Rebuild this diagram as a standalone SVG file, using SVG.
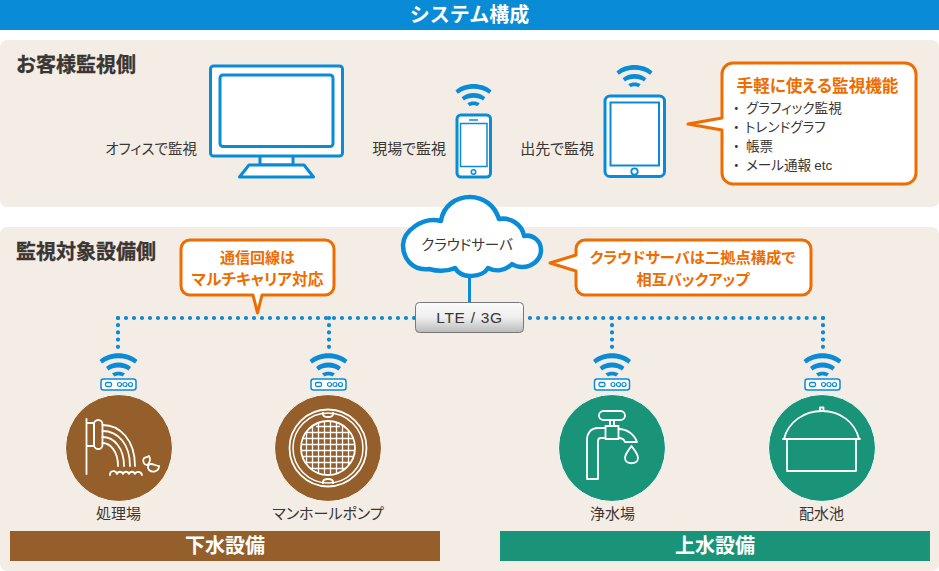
<svg xmlns="http://www.w3.org/2000/svg" width="939" height="571" viewBox="0 0 939 571">
<style>
text{font-family:"Noto Sans CJK JP","Liberation Sans",sans-serif;fill:#3a3533;font-feature-settings:"palt"}
.lat{font-family:"Liberation Sans","Noto Sans CJK JP",sans-serif}
.h{font-size:20px;font-weight:700;stroke:#3a3533;stroke-width:.3;font-feature-settings:normal}
.l{font-size:15px}
.o{font-weight:700;fill:#ee6c00;font-size:15px;text-anchor:middle}
.t{text-anchor:middle}
.b{font-size:13.600px}
.n{font-size:15px;text-anchor:middle}
.w{font-size:20px;font-weight:700;fill:#fff;text-anchor:middle;font-feature-settings:normal}
.panel{fill:#f3ede6}
.bl{fill:#fff;stroke:#0a8bd6;stroke-width:3;stroke-linejoin:round}
.call{fill:#fff;stroke:#ee6c00;stroke-width:3;stroke-linejoin:round}
.dots{fill:none;stroke:#0a8bd6;stroke-width:4.200;stroke-linecap:round;stroke-dasharray:0 8}
.drop{stroke-dasharray:0 7.200}
.ic{fill:none;stroke:#fff;stroke-width:1.800;stroke-linejoin:round;stroke-linecap:round}
</style>
<defs>
<linearGradient id="g" x1="0" y1="0" x2="0" y2="1"><stop offset="0" stop-color="#fbfbfb"/><stop offset=".5" stop-color="#eeeeee"/><stop offset="1" stop-color="#b9b9b9"/></linearGradient>
<g id="wifi" fill="#0a8bd6">
<path d="M-19 -10C-9 -19 9 -19 19 -10L16.500 -6.500C7 -13.500 -7 -13.500 -16.500 -6.500Z"/>
<path d="M-12.500 -3C-6 -9 6 -9 12.500 -3L10 .5C5 -3.500 -5 -3.500 -10 .5Z"/>
<path d="M-6.500 3.500C-3 1 3 1 6.500 3.500L4 6.500C2 5.300 -2 5.300 -4 6.500Z"/>
</g>
<g id="router">
<use href="#wifi" y="28"/>
<rect x="-17.500" y="37" width="35" height="11" rx="2.500" fill="#fff" stroke="#0a8bd6" stroke-width="1.500"/>
<rect x="-13" y="40.500" width="6" height="4" rx="1.500" fill="none" stroke="#0a8bd6" stroke-width="1.300"/>
<circle cx="1" cy="42.500" r="2" fill="none" stroke="#0a8bd6" stroke-width="1.200"/>
<circle cx="6.500" cy="42.500" r="2" fill="none" stroke="#0a8bd6" stroke-width="1.200"/>
<circle cx="12" cy="42.500" r="2" fill="none" stroke="#0a8bd6" stroke-width="1.200"/>
</g>
</defs>

<rect width="939" height="30" fill="#0a8bd6"/>
<rect x="0" y="40" width="939" height="167" rx="7" class="panel"/>
<rect x="0" y="227" width="939" height="344" rx="7" class="panel"/>
<text x="469.500" y="22" class="w">システム構成</text>
<text x="16" y="72" class="h">お客様監視側</text>
<text x="16" y="259" class="h">監視対象設備側</text>

<g id="connectors">
<path class="dots" d="M118 318H415"/>
<path class="dots" style="stroke-dasharray:0 8.140" d="M823 318H528"/>
<path class="dots drop" d="M118 318V347"/>
<path class="dots drop" d="M329 318V347"/>
<path class="dots drop" d="M612 318V347"/>
<path class="dots drop" d="M823 318V347"/>
<path d="M469.500 275V303" stroke="#0a8bd6" stroke-width="3" fill="none"/>
</g>

<g id="monitor">
<path class="bl" d="M260 155H293V165H260Z"/>
<path class="bl" d="M249 165H304L313.500 177H239.500Z"/>
<rect x="210.500" y="66" width="132" height="90" rx="3" class="bl"/>
<rect x="220" y="75" width="113" height="71.500" rx="3" class="bl"/>
<text x="197" y="154" class="l" style="font-size:14.500px" text-anchor="end">オフィスで監視</text>
</g>
<g id="phone">
<use href="#wifi" transform="translate(473.500 100) scale(.95)"/>
<rect x="457" y="115" width="33.500" height="62" rx="4" class="bl"/>
<rect x="460.500" y="123.500" width="26.500" height="43" fill="#fff" stroke="#0a8bd6" stroke-width="1.500"/>
<path d="M469 120H478" stroke="#0a8bd6" stroke-width="1.500"/>
<circle cx="473.500" cy="172" r="2.200" fill="#fff" stroke="#0a8bd6" stroke-width="1.500"/>
<text x="446" y="154" class="l" text-anchor="end">現場で監視</text>
</g>
<g id="tablet">
<use href="#wifi" transform="translate(634.500 81) scale(.95)"/>
<rect x="605" y="96" width="59.500" height="80.500" rx="5" class="bl"/>
<rect x="610.500" y="102.500" width="48.500" height="63" fill="#fff" stroke="#0a8bd6" stroke-width="2"/>
<circle cx="634.500" cy="171.500" r="3.200" fill="#fff" stroke="#0a8bd6" stroke-width="1.800"/>
<text x="594" y="154" class="l" text-anchor="end">出先で監視</text>
</g>
<g id="callout-functions">
<path class="call" d="M733 63H905A11 11 0 0 1 916 74V173A11 11 0 0 1 905 184H733A11 11 0 0 1 722 173V130L688 124L722 118V74A11 11 0 0 1 733 63Z"/>
<text x="817.500" y="92" class="o" style="font-size:16.600px">手軽に使える監視機能</text>
<text x="733" y="113" class="b">・<tspan x="746">グラフィック監視</tspan></text>
<text x="733" y="132" class="b">・<tspan x="745">トレンドグラフ</tspan></text>
<text x="733" y="151" class="b">・<tspan x="746">帳票</tspan></text>
<text x="733" y="170" class="b">・<tspan x="746">メール通報 </tspan><tspan class="lat" font-size="13.500">etc</tspan></text>
</g>
<g id="callout-carrier">
<path class="call" d="M190 240H325A9 9 0 0 1 334 249V286A9 9 0 0 1 325 295H262L257.500 313L253 295H190A9 9 0 0 1 181 286V249A9 9 0 0 1 190 240Z"/>
<text x="257.500" y="263" class="o">通信回線は</text>
<text x="257.500" y="285" class="o" style="font-size:15.700px">マルチキャリア対応</text>
</g>
<g id="callout-backup">
<path class="call" d="M585 240H802A9 9 0 0 1 811 249V286A9 9 0 0 1 802 295H585A9 9 0 0 1 576 286V271L550 263L576 255V249A9 9 0 0 1 585 240Z"/>
<text x="692.500" y="263" class="o" style="font-size:15.300px">クラウドサーバは二拠点構成で</text>
<text x="693" y="285" class="o" style="font-size:15.200px">相互バックアップ</text>
</g>
<g id="cloud">
<path fill="#fff" stroke="#0a8bd6" stroke-width="4.500" stroke-linejoin="round" d="M441 221C443 206 456 197 470 197C484 197 495 206 499 219C510 217 522 224 524 236C533 234 541 241 541 250C541 260 532 267 522 267C518 267 515 266 512 264C505 271 496 272 488 268C483 277 462 280 455 268C446 272 436 271 429 269C412 271 403 258 403 245C403 232 422 216 441 221Z"/>
<text x="467" y="250" class="t" style="font-size:14.500px">クラウドサーバ</text>
</g>
<g id="lte">
<rect x="415.500" y="302.500" width="108" height="30" rx="4" fill="url(#g)" stroke="#777" stroke-width="1"/>
<text x="469.500" y="323" class="t lat" style="font-size:15.500px;letter-spacing:.7px">LTE / 3G</text>
</g>

<g id="node-treatment">
<use href="#router" x="118.500" y="342"/>
<circle cx="119" cy="448" r="53.500" fill="#945f2a" stroke="#fff" stroke-width="1"/>
<g class="ic">
<path d="M86.500 419V474M86.500 423H94M86.500 446H94M94 423V446"/>
<rect x="94" y="420" width="8.500" height="29" rx="4.250"/>
<path d="M102.500 425C120 425 135 440 135 466M102.500 431C118 431 130 444 130 466M102.500 437C114 437 124 448 124 466M102.500 443C110 443 118 451 118 466"/>
<path d="M110 475C110 470 116 470 117 474C118 471 122 471 123 474C124 471 128 471 129 474C130 471 134 471 135 474C136 471 141 471 142 475"/>
<path d="M149 456C151 459 150 463 147 465C144 465 142 461 144 458C146 457 148 457 149 456Z"/>
<path d="M159 466C159 472 152 473 149 470C147 467 148 464 151 464C154 464 156 466 159 466Z"/>
</g>
<text x="118.500" y="519" class="n">処理場</text>
</g>
<g id="node-manhole">
<use href="#router" x="328.500" y="342"/>
<circle cx="328" cy="448" r="53.500" fill="#945f2a" stroke="#fff" stroke-width="1"/>
<g fill="none" stroke="#fff">
<circle cx="328" cy="448" r="38.500" stroke-width="1.800"/>
<circle cx="328" cy="448" r="35" stroke-width="1.500"/>
<circle cx="328" cy="448" r="27" stroke-width="1.800"/>
<path stroke-width="1.300" d="M306 432.500H350M302.500 438.500H353.500M301.500 444.500H354.500M301.500 450.500H354.500M302.500 456.500H353.500M305 462.500H351M310 468.500H346M316 426.500H340M306.500 432V464M312.500 427V469M318.500 423V473M324.500 421.500V474.500M330.500 421.500V474.500M336.500 422.500V473.500M342.500 426V470M348.500 431V465"/>
<path stroke-width="1.800" d="M323 412V414C323 418 333 418 333 414V412M323 484V482C323 478 333 478 333 482V484"/>
</g>
<text x="328" y="519" class="n">マンホールポンプ</text>
</g>
<g id="node-purification">
<use href="#router" x="612" y="342"/>
<circle cx="612" cy="448" r="53.500" fill="#1a9478" stroke="#fff" stroke-width="1"/>
<g class="ic">
<rect x="599" y="411" width="26" height="9" rx="4.500"/>
<path d="M610 420V426H614V420"/>
<path d="M605.500 426H618.500V439H605.500Z"/>
<path d="M605.500 428H598C591 428 587 433 587 440V479H598V441C598 439 599 438 601 438H605.500M618.500 429C627 429 634 434 637 442H625C624 439 622 438 618.500 438"/>
<path d="M631.500 446C628 451 625 454 625 458C625 465 638 465 638 458C638 454 635 451 631.500 446Z"/>
</g>
<text x="612.500" y="519" class="n">浄水場</text>
</g>
<g id="node-reservoir">
<use href="#router" x="822.500" y="342"/>
<circle cx="822" cy="448" r="53.500" fill="#1a9478" stroke="#fff" stroke-width="1"/>
<g class="ic">
<path d="M787 439V471H856V439"/>
<path d="M784 439C788 422 804 411 822 411C840 411 855 422 859 439"/>
<path d="M783 439H860"/>
<rect x="820" y="407.500" width="3.500" height="3.500"/>
</g>
<text x="821.500" y="519" class="n">配水池</text>
</g>
<g id="band-sewage">
<rect x="10" y="531" width="430" height="30" fill="#945f2a"/>
<text x="225" y="552.500" class="w">下水設備</text>
</g>
<g id="band-water">
<rect x="500" y="531" width="430" height="30" fill="#1a9478"/>
<text x="715" y="552.500" class="w">上水設備</text>
</g>
</svg>
